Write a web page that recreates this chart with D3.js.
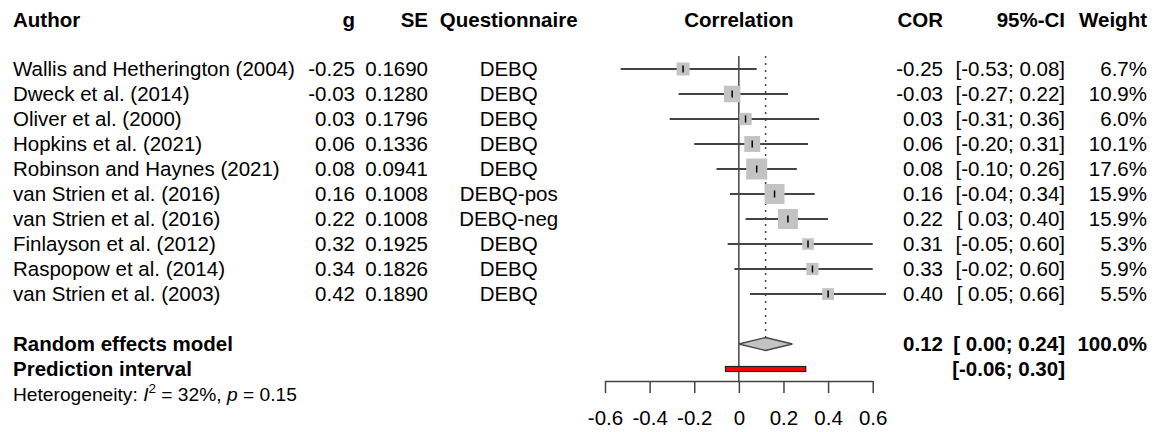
<!DOCTYPE html>
<html>
<head>
<meta charset="utf-8">
<script src="https://cdn.jsdelivr.net/npm/d3@7"></script>
<style>
  body { margin: 0; background: #fff; }
  text { font-family: "Liberation Sans", Arial, sans-serif; fill: #000; white-space: pre; }
</style>
</head>
<body>
<div id="forest"></div>
<script>
// Study data
var authors = ["Wallis and Hetherington (2004)", "Dweck et al. (2014)", "Oliver et al. (2000)",
    "Hopkins et al. (2021)", "Robinson and Haynes (2021)", "van Strien et al. (2016)",
    "van Strien et al. (2016)", "Finlayson et al. (2012)", "Raspopow et al. (2014)", "van Strien et al. (2003)"];
var gValues = [-0.25, -0.03, 0.03, 0.06, 0.08, 0.16, 0.22, 0.32, 0.34, 0.42];
var seValues = [0.1690, 0.1280, 0.1796, 0.1336, 0.0941, 0.1008, 0.1008, 0.1925, 0.1826, 0.1890];
var questionnaires = ["DEBQ", "DEBQ", "DEBQ", "DEBQ", "DEBQ", "DEBQ-pos", "DEBQ-neg", "DEBQ", "DEBQ", "DEBQ"];
var corValues = [-0.25, -0.03, 0.03, 0.06, 0.08, 0.16, 0.22, 0.31, 0.33, 0.40];
var ciLower = [-0.53, -0.27, -0.31, -0.20, -0.10, -0.04, 0.03, -0.05, -0.02, 0.05];
var ciUpper = [0.08, 0.22, 0.36, 0.31, 0.26, 0.34, 0.40, 0.60, 0.60, 0.66];
var weights = [6.7, 10.9, 6.0, 10.1, 17.6, 15.9, 15.9, 5.3, 5.9, 5.5];

// Pooled results
var pooledEst = 0.12;
var pooledCI = [0.00, 0.24];
var pooledWeight = 100.0;
var predInterval = [-0.06, 0.30];
var heterogeneity = {i2: "32%", p: "0.15"};

var axisTicks = [-0.6, -0.4, -0.2, 0, 0.2, 0.4, 0.6];

var width = 1155, height = 432;
var fontSize = 20.5;

var svg = d3.select("#forest").append("svg")
    .attr("width", width)
    .attr("height", height);

// scales
var x = d3.scaleLinear().domain([-0.6, 0.6]).range([605, 872.7]);
var rowY = d3.scaleLinear().domain([0, 9]).range([69, 294]);
var boxSize = d3.scaleSqrt().domain([0, 17.6]).range([0, 21]);

var yPooled = 344, yPred = 369, yHet = 392, yAxis = 381;
var baseOff = 7.4;

// column x positions
var col = {author: 13, g: 355, se: 428, quest: 508.7, plot: x(0), cor: 943, ci: 1065, weight: 1147};

function fmtCI(lo, hi) {
    var l = (lo >= 0 ? " " : "") + lo.toFixed(2);
    return "[" + l + "; " + hi.toFixed(2) + "]";
}

function addText(px, py, str, anchor, bold) {
    return svg.append("text")
        .attr("x", px)
        .attr("y", py)
        .attr("xml:space", "preserve")
        .style("font-size", fontSize + "px")
        .style("font-weight", bold ? "bold" : "normal")
        .style("text-anchor", anchor)
        .text(str);
}

// headers
var hy = 27;
addText(col.author, hy, "Author", "start", true);
addText(col.g, hy, "g", "end", true);
addText(col.se, hy, "SE", "end", true);
addText(col.quest, hy, "Questionnaire", "middle", true);
addText(col.plot, hy, "Correlation", "middle", true);
addText(col.cor, hy, "COR", "end", true);
addText(col.ci, hy, "95%-CI", "end", true);
addText(col.weight, hy, "Weight", "end", true);

// study rows text
authors.forEach(function(a, i) {
    var ty = rowY(i) + baseOff;
    addText(col.author, ty, a, "start", false);
    addText(col.g, ty, gValues[i].toFixed(2), "end", false);
    addText(col.se, ty, seValues[i].toFixed(4), "end", false);
    addText(col.quest, ty, questionnaires[i], "middle", false);
    addText(col.cor, ty, corValues[i].toFixed(2), "end", false);
    addText(col.ci, ty, fmtCI(ciLower[i], ciUpper[i]), "end", false);
    addText(col.weight, ty, weights[i].toFixed(1) + "%", "end", false);
});

// pooled text
addText(col.author, yPooled + baseOff, "Random effects model", "start", true);
addText(col.cor, yPooled + baseOff, pooledEst.toFixed(2), "end", true);
addText(col.ci, yPooled + baseOff, fmtCI(pooledCI[0], pooledCI[1]), "end", true);
addText(col.weight, yPooled + baseOff, pooledWeight.toFixed(1) + "%", "end", true);
addText(col.author, yPred + baseOff, "Prediction interval", "start", true);
addText(col.ci, yPred + baseOff, fmtCI(predInterval[0], predInterval[1]), "end", true);

// heterogeneity line with italic and superscript
var het = svg.append("text")
    .attr("x", col.author)
    .attr("y", yHet + 8.7)
    .attr("xml:space", "preserve")
    .style("font-size", "19.2px");
het.append("tspan").text("Heterogeneity: ");
het.append("tspan").style("font-style", "italic").text("I");
het.append("tspan").attr("dy", -8).style("font-size", "13.5px").text("2");
het.append("tspan").attr("dy", 8).text(" = " + heterogeneity.i2 + ", ");
het.append("tspan").style("font-style", "italic").text("p");
het.append("tspan").text(" = " + heterogeneity.p);

// reference lines
var lineTop = 56;
svg.append("line")
    .attr("x1", x(0)).attr("x2", x(0))
    .attr("y1", lineTop).attr("y2", yAxis)
    .attr("stroke", "#444").attr("stroke-width", 1.5);

svg.append("line")
    .attr("x1", x(pooledEst)).attr("x2", x(pooledEst))
    .attr("y1", lineTop).attr("y2", yPooled - 6.5)
    .attr("stroke", "#444").attr("stroke-width", 1.5)
    .attr("stroke-dasharray", "2,5");

// confidence interval lines
var rows = svg.append("g").selectAll("g")
    .data(d3.range(authors.length))
    .enter().append("g");

rows.append("line")
    .attr("x1", function(i) { return x(ciLower[i]); })
    .attr("x2", function(i) { return x(ciUpper[i]); })
    .attr("y1", function(i) { return rowY(i); })
    .attr("y2", function(i) { return rowY(i); })
    .attr("stroke", "#444")
    .attr("stroke-width", 1.8);

// weight squares
rows.append("rect")
    .attr("x", function(i) { return x(corValues[i]) - boxSize(weights[i]) / 2; })
    .attr("y", function(i) { return rowY(i) - boxSize(weights[i]) / 2; })
    .attr("width", function(i) { return boxSize(weights[i]); })
    .attr("height", function(i) { return boxSize(weights[i]); })
    .style("fill", "#c3c3c3");

// point estimate tick
rows.append("line")
    .attr("x1", function(i) { return x(corValues[i]); })
    .attr("x2", function(i) { return x(corValues[i]); })
    .attr("y1", function(i) { return rowY(i) - 3.5; })
    .attr("y2", function(i) { return rowY(i) + 3.5; })
    .attr("stroke", "#000")
    .attr("stroke-width", 1.5);

// pooled diamond
var dh = 6.5;
svg.append("path")
    .attr("d", "M" + x(pooledCI[0]) + "," + yPooled +
        "L" + x(pooledEst) + "," + (yPooled - dh) +
        "L" + x(pooledCI[1]) + "," + yPooled +
        "L" + x(pooledEst) + "," + (yPooled + dh) + "Z")
    .style("fill", "#c3c3c3")
    .attr("stroke", "#444")
    .attr("stroke-width", 1.3);

// prediction interval
svg.append("rect")
    .attr("x", x(predInterval[0]))
    .attr("y", yPred - 2.5)
    .attr("width", x(predInterval[1]) - x(predInterval[0]))
    .attr("height", 5)
    .style("fill", "#ff0000")
    .attr("stroke", "#222")
    .attr("stroke-width", 1.2);

// x axis
var axis = svg.append("g")
    .attr("transform", "translate(0," + yAxis + ")")
    .call(d3.axisBottom(x)
        .tickValues(axisTicks)
        .tickSizeInner(12)
        .tickSizeOuter(0)
        .tickPadding(17)
        .tickFormat(function(d) { return d === 0 ? "0" : d.toFixed(1); }));

axis.select(".domain").attr("stroke", "#444").attr("stroke-width", 1.5);
axis.selectAll(".tick line").attr("stroke", "#444").attr("stroke-width", 1.5);
axis.selectAll(".tick text")
    .style("font-size", fontSize + "px")
    .style("font-family", "'Liberation Sans', Arial, sans-serif")
    .attr("fill", "#000");
</script>
</body>
</html>
